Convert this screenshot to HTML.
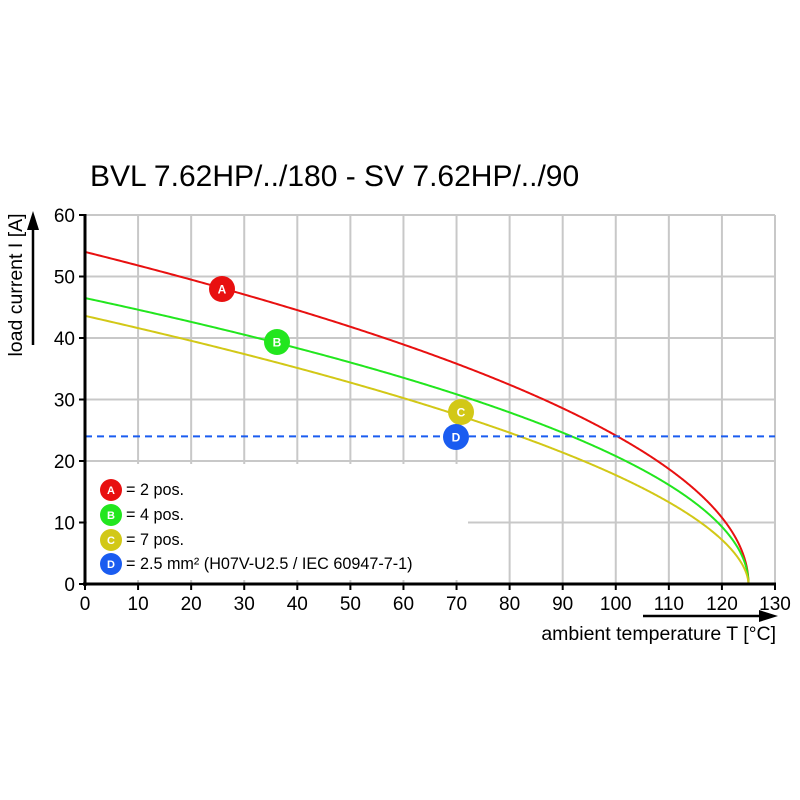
<!DOCTYPE html>
<html><head><meta charset="utf-8"><style>
html,body{margin:0;padding:0;background:#fff;}
svg{display:block;font-family:"Liberation Sans",Arial,sans-serif;}
</style></head><body>
<svg id="s" width="800" height="800" viewBox="0 0 800 800" xmlns="http://www.w3.org/2000/svg">
<rect width="800" height="800" fill="#fff"/>
<text x="90" y="186" font-size="30" fill="#000">BVL 7.62HP/../180 - SV 7.62HP/../90</text>
<g id="grid" stroke="#c8c8c8" stroke-width="2"></g>
<rect x="87" y="464" width="381" height="116" fill="#fff"/>
<g id="curves" fill="none" stroke-width="2"></g>
<line x1="85" y1="436.4" x2="775" y2="436.4" stroke="#1a5cf0" stroke-width="2" stroke-dasharray="7,5"/>
<line x1="85" y1="214" x2="85" y2="586" stroke="#000" stroke-width="3"/>
<line x1="83" y1="584" x2="776" y2="584" stroke="#000" stroke-width="3"/>
<g id="ticks" stroke="#000" stroke-width="2"></g>
<g id="labels" font-size="19" fill="#000"></g>
<line x1="33" y1="345" x2="33" y2="228" stroke="#000" stroke-width="2.5"/>
<polygon points="33,211 27,230 39,230" fill="#000"/>
<text transform="translate(22,285) rotate(-90)" text-anchor="middle" font-size="19.5">load current I [A]</text>
<line x1="643" y1="616" x2="762" y2="616" stroke="#000" stroke-width="2.5"/>
<polygon points="778,616 759,610 759,622" fill="#000"/>
<text x="776" y="640" text-anchor="end" font-size="19.5">ambient temperature T [°C]</text>
<g id="markers" font-weight="bold" font-size="12" text-anchor="middle"></g>
<g font-size="16.2" fill="#000">
<text x="126" y="495">= 2 pos.</text>
<text x="126" y="520">= 4 pos.</text>
<text x="126" y="545">= 7 pos.</text>
<text x="126" y="569">= 2.5 mm² (H07V-U2.5 / IEC 60947-7-1)</text>
</g>
</svg>
<script>
var NS="http://www.w3.org/2000/svg";
function X(t){return 85+t*690/130;}function Y(i){return 584-i*369/60;}
function el(p,n,a,txt){var e=document.createElementNS(NS,n);for(var k in a)e.setAttribute(k,a[k]);if(txt!=null)e.textContent=txt;document.getElementById(p).appendChild(e);}
for(var t=10;t<=130;t+=10)el("grid","line",{x1:X(t),y1:215,x2:X(t),y2:584});
for(var i=10;i<=60;i+=10)el("grid","line",{x1:85,y1:Y(i),x2:775,y2:Y(i)});
for(var t=0;t<=130;t+=10){el("ticks","line",{x1:X(t),y1:584,x2:X(t),y2:590});el("labels","text",{x:X(t),y:610,"text-anchor":"middle"},""+t);}
for(var i=0;i<=60;i+=10){el("ticks","line",{x1:79,y1:Y(i),x2:85,y2:Y(i)});el("labels","text",{x:75,y:Y(i)+7,"text-anchor":"end"},""+i);}
[[54,"#e81010",0.5],[46.5,"#22e61e",0.5],[43.6,"#d2c817",0.56]].forEach(function(c){var p="";for(var k=0;k<=500;k++){var t=125*(1-Math.pow(1-k/500,2));var v=c[0]*Math.pow(Math.max(0,1-t/125),c[2]);p+=(k?"L":"M")+X(t).toFixed(2)+","+Y(v).toFixed(2);}el("curves","path",{d:p,stroke:c[1]});});
function mk(x,y,c,l){el("markers","circle",{cx:x,cy:y,r:13,fill:c});el("markers","text",{x:x,y:y+4.5,fill:"#fff"},l);}
mk(222,289,"#e81010","A");mk(277,342,"#22e61e","B");mk(461,412,"#d2c817","C");mk(456,437,"#1a5cf0","D");
function sm(x,y,c,l){el("markers","circle",{cx:x,cy:y,r:11,fill:c});el("markers","text",{x:x,y:y+4,fill:"#fff","font-size":11},l);}
sm(111,490,"#e81010","A");sm(111,515,"#22e61e","B");sm(111,540,"#d2c817","C");sm(111,564,"#1a5cf0","D");
</script>
</body></html>
